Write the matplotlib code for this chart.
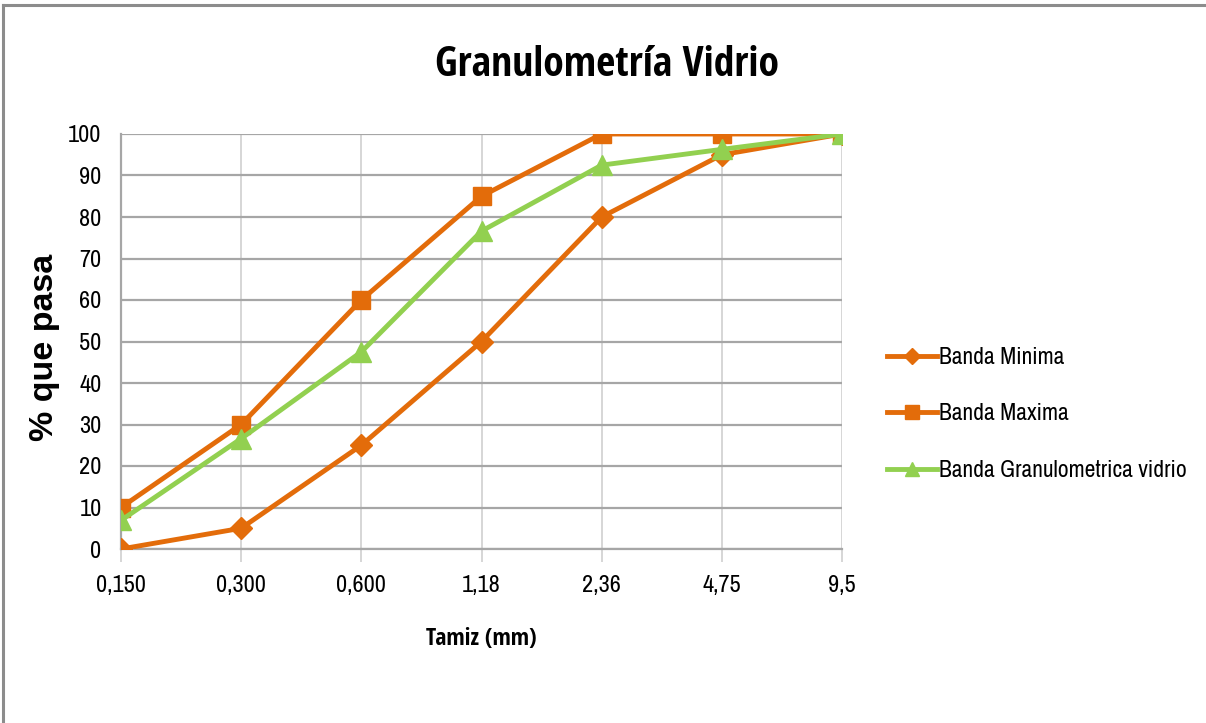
import matplotlib
matplotlib.use("Agg")
import matplotlib.pyplot as plt
from matplotlib import font_manager as fm
from matplotlib.lines import Line2D

# Sieve sizes and passing percentages
tamices = ["0,150", "0,300", "0,600", "1,18", "2,36", "4,75", "9,5"]
banda_minima = [0, 5, 25, 50, 80, 95, 100]
banda_maxima = [10, 30, 60, 85, 100, 100, 100]
banda_vidrio = [6.9, 26.6, 47.5, 76.6, 92.5, 96.3, 100]
y_ticks = list(range(0, 101, 10))

ORANGE = "#E36C0A"
GREEN = "#92D050"


def narrow_font(bold=False):
    """Look for an installed condensed sans face; fall back to Liberation Sans."""
    want = 700 if bold else 400
    hits = []
    for f in fm.fontManager.ttflist:
        cond = ("Narrow" in f.name or "Condensed" in f.name
                or "condensed" in str(f.stretch) or "Condensed" in f.fname
                or "Narrow" in f.fname)
        if not cond or f.style != "normal":
            continue
        try:
            w = int(f.weight)
        except (TypeError, ValueError):
            w = 700 if "bold" in str(f.weight).lower() else 400
        if "Semi" in f.fname or "Extra" in f.fname or "Light" in f.fname:
            continue
        if w == want:
            hits.append(f)
    if hits:
        hits.sort(key=lambda f: ("Liberation" not in f.name, "Noto Sans" not in f.name,
                                 "Open Sans" not in f.name, f.name))
        return fm.FontProperties(fname=hits[0].fname), 1.0
    return fm.FontProperties(family="Liberation Sans",
                             weight="bold" if bold else "normal"), 0.82


reg_fp, k = narrow_font()
bold_fp, kb = narrow_font(bold=True)


def fp(base, size):
    p = base.copy()
    p.set_size(size)
    return p


W, H = 1206, 723
fig = plt.figure(figsize=(W / 100, H / 100), dpi=100)
fig.patch.set_facecolor("white")

ax = fig.add_axes([121 / W, 1 - 549 / H, (842 - 121) / W, (549 - 134) / H])
x = list(range(len(tamices)))

ax.plot(x, banda_minima, color=ORANGE, lw=3.5, marker="D", ms=11.5,
        label="Banda Minima", zorder=4)
ax.plot(x, banda_maxima, color=ORANGE, lw=3.5, marker="s", ms=13.5,
        label="Banda Maxima", zorder=4)
ax.plot(x, banda_vidrio, color=GREEN, lw=3.5, marker="^", ms=14.5,
        label="Banda Granulometrica vidrio", zorder=5)

ax.set_xlim(0, len(tamices) - 1)
ax.set_ylim(0, 100)
ax.set_xticks(x)
ax.set_xticklabels(tamices, fontproperties=fp(reg_fp, 17.5 * k))
ax.set_yticks(y_ticks)
ax.set_yticklabels([str(v) for v in y_ticks], fontproperties=fp(reg_fp, 17.5 * k))

# gridlines: darker horizontals, lighter verticals
ax.grid(axis="y", color="#A6A6A6", lw=1.6, zorder=0)
ax.grid(axis="x", color="#D0D0D0", lw=1.2, zorder=0)
for side in ["top", "right"]:
    ax.spines[side].set_visible(False)
ax.spines["left"].set_color("#A6A6A6")
ax.spines["left"].set_linewidth(1.6)
ax.spines["bottom"].set_color("#A6A6A6")
ax.spines["bottom"].set_linewidth(1.6)
ax.tick_params(axis="x", length=9, width=1.2, color="#D0D0D0", pad=10)
ax.tick_params(axis="y", length=0, pad=14)

ax.set_xlabel("Tamiz (mm)", fontproperties=fp(bold_fp, 17 * kb), labelpad=22)
fig.text(45 / W, 1 - 347 / H, "% que pasa", family="Liberation Sans",
         fontsize=24.5, fontweight="bold", rotation=90, ha="center", va="center")

fig.text(607 / W, 1 - 66 / H, "Granulometría Vidrio",
         fontproperties=fp(bold_fp, 30 * kb), ha="center", va="center")

leg = ax.legend(loc="center left", bbox_to_anchor=(887 / W, 1 - 414 / H),
                bbox_transform=fig.transFigure, frameon=False,
                prop=fp(reg_fp, 17 * k), handlelength=2.1 / k,
                handletextpad=0.1, labelspacing=1.5 / k, markerscale=0.7,
                borderaxespad=0, borderpad=0)

# outer border lines (left and top)
fig.add_artist(Line2D([3.5 / W, 3.5 / W], [0, 1 - 5 / H], color="#8C8C8C",
                      lw=2.2, transform=fig.transFigure))
fig.add_artist(Line2D([3.5 / W, 1], [1 - 5 / H, 1 - 5 / H], color="#8C8C8C",
                      lw=2.2, transform=fig.transFigure))

fig.savefig("out.png", dpi=100, facecolor="white")
